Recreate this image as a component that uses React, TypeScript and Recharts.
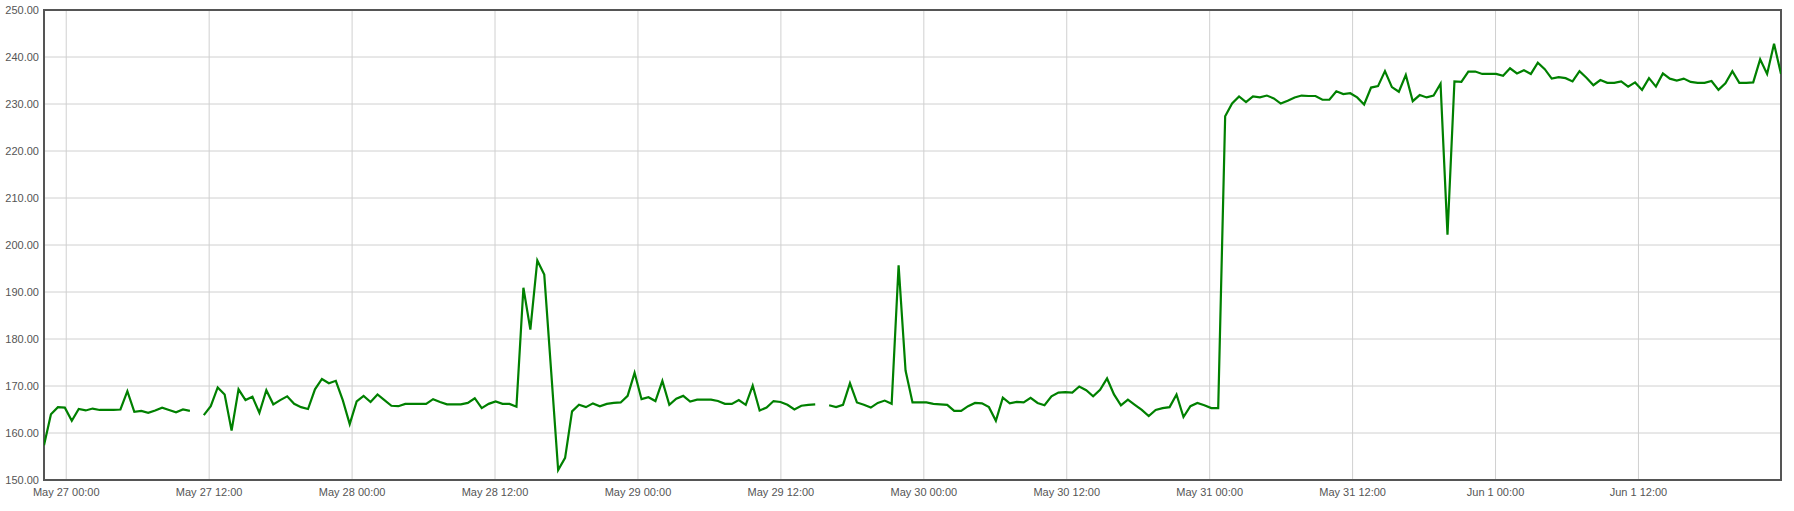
import { CartesianGrid, Line, LineChart, ReferenceArea, XAxis, YAxis } from "recharts";

const utc = (month: number, day: number, hour: number, minute = 0) =>
  Date.UTC(2023, month - 1, day, hour, minute);

// readings every 35 minutes, starting May 26 22:08
const startTime = utc(5, 26, 22, 8);
const stepMinutes = 35;

const values: (number | null)[] = [
  157.4, 164.0, 165.5, 165.4, 162.6, 165.1, 164.8, 165.2, 164.9, 164.9,
  164.9, 165.0, 168.9, 164.5, 164.7, 164.3, 164.8, 165.4, 164.9, 164.4,
  165.0, 164.7, null, 163.8, 165.7, 169.7, 168.2, 160.5, 169.3, 167.0,
  167.7, 164.3, 169.1, 166.1, 167.0, 167.8, 166.2, 165.5, 165.1, 169.3,
  171.5, 170.6, 171.1, 167.0, 161.9, 166.7, 167.9, 166.6, 168.2, 167.0,
  165.8, 165.7, 166.2, 166.2, 166.2, 166.2, 167.2, 166.6, 166.1, 166.1,
  166.1, 166.4, 167.4, 165.3, 166.2, 166.7, 166.2, 166.2, 165.6, 190.9,
  182.0, 196.7, 193.7, 173.0, 152.1, 154.7, 164.6, 166.0, 165.5, 166.3,
  165.7, 166.2, 166.4, 166.5, 167.9, 172.8, 167.2, 167.6, 166.8, 171.1,
  166.0, 167.3, 167.9, 166.7, 167.1, 167.1, 167.1, 166.8, 166.2, 166.2,
  167.0, 166.0, 170.1, 164.8, 165.4, 166.8, 166.6, 166.0, 165.0, 165.8,
  166.0, 166.1, null, 165.9, 165.5, 166.0, 170.6, 166.5, 166.0, 165.4,
  166.4, 166.9, 166.2, 195.7, 173.3, 166.5, 166.5, 166.5, 166.2, 166.1,
  166.0, 164.7, 164.7, 165.7, 166.4, 166.3, 165.5, 162.6, 167.5, 166.3,
  166.6, 166.5, 167.5, 166.4, 165.9, 167.8, 168.6, 168.7, 168.6, 169.9,
  169.1, 167.8, 169.2, 171.6, 168.2, 165.9, 167.1, 166.0, 164.9, 163.6,
  164.9, 165.3, 165.5, 168.2, 163.4, 165.7, 166.4, 165.9, 165.3, 165.3,
  227.4, 230.1, 231.6, 230.4, 231.6, 231.4, 231.8, 231.2, 230.1, 230.7,
  231.4, 231.8, 231.7, 231.7, 230.9, 230.9, 232.7, 232.1, 232.3, 231.4,
  229.9, 233.5, 233.8, 237.0, 233.6, 232.6, 236.2, 230.6, 231.9, 231.4,
  231.8, 234.3, 202.2, 234.8, 234.7, 236.9, 236.9, 236.4, 236.4, 236.4,
  236.0, 237.6, 236.5, 237.2, 236.4, 238.8, 237.4, 235.4, 235.7, 235.5,
  234.8, 237.0, 235.6, 234.0, 235.1, 234.5, 234.5, 234.8, 233.7, 234.6,
  233.0, 235.5, 233.7, 236.5, 235.4, 235.0, 235.4, 234.7, 234.5, 234.5,
  234.9, 233.0, 234.4, 237.0, 234.5, 234.5, 234.6, 239.5, 236.4, 242.8,
  236.4,
];

const xTicks = [
  utc(5, 27, 0), utc(5, 27, 12), utc(5, 28, 0), utc(5, 28, 12),
  utc(5, 29, 0), utc(5, 29, 12), utc(5, 30, 0), utc(5, 30, 12),
  utc(5, 31, 0), utc(5, 31, 12), utc(6, 1, 0), utc(6, 1, 12),
];

const yTicks = [150, 160, 170, 180, 190, 200, 210, 220, 230, 240, 250];

const monthNames = ["Jan", "Feb", "Mar", "Apr", "May", "Jun", "Jul", "Aug", "Sep", "Oct", "Nov", "Dec"];

const data = values.map((v, i) => ({
  t: startTime + i * stepMinutes * 60000,
  value: v,
}));

const xDomain = [data[0].t, data[data.length - 1].t];

const pad = (n: number) => String(n).padStart(2, "0");

const formatTime = (ts: number) => {
  const d = new Date(ts);
  return `${monthNames[d.getUTCMonth()]} ${d.getUTCDate()} ${pad(d.getUTCHours())}:${pad(d.getUTCMinutes())}`;
};

const tickStyle = { fontSize: 11, fill: "#555", fontFamily: "'Liberation Sans', Arial, sans-serif" };

export default function App() {
  return (
    <div style={{ position: "absolute", left: 0, top: 0, background: "#fff" }}>
      <LineChart
        width={1794}
        height={511}
        data={data}
        margin={{ top: 10, right: 13, bottom: 0, left: 0 }}
      >
        <CartesianGrid stroke="#d0d0d0" />
        <XAxis
          dataKey="t"
          type="number"
          domain={xDomain}
          ticks={xTicks}
          interval={0}
          tickFormatter={formatTime}
          tick={tickStyle}
          tickLine={false}
          axisLine={false}
          height={31}
          allowDataOverflow
        />
        <YAxis
          type="number"
          domain={[150, 250]}
          ticks={yTicks}
          interval={0}
          tickFormatter={(v: number) => v.toFixed(2)}
          tick={tickStyle}
          tickLine={false}
          axisLine={false}
          width={44}
          tickSize={3}
          tickMargin={2}
        />
        <Line
          type="linear"
          dataKey="value"
          stroke="#008000"
          strokeWidth={2.2}
          dot={false}
          connectNulls={false}
          isAnimationActive={false}
        />
        <ReferenceArea
          x1={xDomain[0]}
          x2={xDomain[1]}
          y1={150}
          y2={250}
          fill="none"
          fillOpacity={0}
          stroke="#555"
          strokeWidth={2}
          strokeOpacity={1}
          ifOverflow="visible"
        />
      </LineChart>
    </div>
  );
}
